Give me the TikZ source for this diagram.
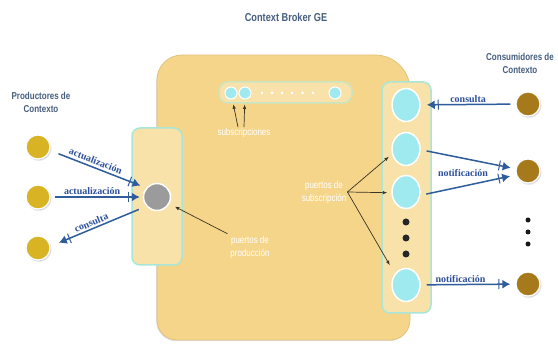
\documentclass[tikz,border=0pt]{standalone}
\usepackage{fontspec}
\setmainfont{Liberation Serif}
\newfontfamily\nsans[FakeStretch=0.8]{Liberation Sans}
\usetikzlibrary{arrows.meta,shapes.geometric,calc,shadows}
\definecolor{broker}{HTML}{F5D58A}
\definecolor{brokeredge}{HTML}{E3C37A}
\definecolor{portfill}{HTML}{F8E2A9}
\definecolor{portedge}{HTML}{A9E6D8}
\definecolor{baredge}{HTML}{C9E6C2}
\definecolor{cyanport}{HTML}{9EEAEE}
\definecolor{prodcol}{HTML}{D8B424}
\definecolor{conscol}{HTML}{A67A1A}
\definecolor{graycol}{HTML}{9B9B9B}
\definecolor{arrowblue}{HTML}{2F5C9A}
\definecolor{lblblue}{HTML}{2C4F9A}
\definecolor{titlecol}{HTML}{465E7E}
\definecolor{darkline}{HTML}{3B3424}
\begin{document}
\begin{tikzpicture}[x=1pt,y=-1pt,
  prod/.style={circle,fill=prodcol,draw=white,line width=1.2pt,minimum size=24pt,inner sep=0pt,
    circular drop shadow={shadow xshift=.6pt,shadow yshift=-.8pt,opacity=.3}},
  cons/.style={prod,fill=conscol},
  grayport/.style={circle,fill=graycol,draw=white,line width=1.5pt,minimum size=27pt,inner sep=0pt},
  subport/.style={ellipse,fill=cyanport,draw=white,line width=1.5pt,minimum width=28pt,minimum height=33pt,inner sep=0pt},
  barport/.style={circle,fill=cyanport,draw=white,line width=1pt,minimum size=12pt,inner sep=0pt},
  wdot/.style={circle,fill=white,minimum size=3pt,inner sep=0pt},
  bdot/.style={circle,fill=black!85,minimum size=7pt,inner sep=0pt},
  cdot/.style={circle,fill=black!90,minimum size=5pt,inner sep=0pt},
  portbox/.style={rectangle,rounded corners=8pt,fill=portfill,draw=portedge,line width=1.5pt,inner sep=0pt},
  barbox/.style={rectangle,rounded corners=9pt,fill=portfill,draw=baredge,line width=1.5pt,inner sep=0pt},
  bluearrow/.style={draw=arrowblue,line width=1.5pt,
    -{Bar[width=10pt,line width=1pt,sep=3pt]Latex[length=8pt,width=9pt]}},
  blk/.style={draw=darkline,line width=0.7pt,-{Latex[length=4.5pt,width=3.5pt]}},
  lbl/.style={font=\bfseries\fontsize{10}{11}\selectfont,text=lblblue,inner sep=1pt},
  wlbl/.style={font=\nsans\fontsize{10}{13}\selectfont,text=white,align=center,inner sep=1pt},
  hdr/.style={font=\nsans\bfseries\fontsize{10}{13}\selectfont,text=titlecol,align=center,inner sep=0pt}
]
\useasboundingbox (0,0) rectangle (558,344);
\fill[white] (0,0) rectangle (558,344);
% broker box
\path[fill=broker,draw=brokeredge,line width=0.8pt,
  drop shadow={shadow xshift=-.8pt,shadow yshift=-1.2pt,opacity=.25}]
  (157,80) arc[start angle=180,end angle=270,radius=25]
  -- (375,55) arc[start angle=270,end angle=360,radius=35]
  -- (410,320) arc[start angle=0,end angle=90,radius=20]
  -- (177,340) arc[start angle=90,end angle=180,radius=20] -- cycle;
% title and headers
\node[hdr,font=\nsans\bfseries\fontsize{11.5}{13}\selectfont] (title) at (286,17) {Context Broker GE};
\node[hdr] (prodhdr) at (41,102) {Productores de\\Contexto};
\node[hdr] (conshdr) at (520,63.5) {Consumidores de\\Contexto};
% boxes
\node[portbox,minimum width=50pt,minimum height=137pt] (pbox) at (157,196.5) {};
\node[portbox,minimum width=49pt,minimum height=231pt] (sbox) at (406.5,197.5) {};
\node[barbox,minimum width=133pt,minimum height=21pt] (bar) at (285.5,92.5) {};
% subscription bar contents
\node[barport] (sc1) at (231,93) {};
\node[barport] (sc2) at (245,93) {};
\node[barport] (sc3) at (335,93) {};
\foreach \i/\x in {1/262,2/272,3/282,4/292,5/302.5,6/313}
  \node[wdot] (wd\i) at (\x,93) {};
% ports
\node[grayport] (g) at (157,197) {};
\node[subport] (s1) at (406,105) {};
\node[subport] (s2) at (406,149) {};
\node[subport] (s3) at (406,192) {};
\node[subport] (s5) at (406,285) {};
\node[bdot] (sd1) at (406,222) {};
\node[bdot] (sd2) at (406,238) {};
\node[bdot] (sd3) at (406,254) {};
% producers and consumers
\node[prod] (p1) at (38,147) {};
\node[prod] (p2) at (38,197) {};
\node[prod] (p3) at (38,248) {};
\node[cons] (c1) at (528,104) {};
\node[cons] (c2) at (528,171) {};
\node[cons] (c3) at (528,284) {};
\node[cdot] (cd1) at (528,220) {};
\node[cdot] (cd2) at (528,232) {};
\node[cdot] (cd3) at (528,244) {};
% white labels
\node[wlbl] (subs) at (244,133) {subscripciones};
\node[wlbl] (psub) at (324,192) {puertos de\\subscripción};
\node[wlbl] (pprod) at (250,247) {puertos de\\producción};
% black pointer arrows
\draw[blk,shorten >=5pt] ($(subs.north)+(-6,0)$) -- (sc1);
\draw[blk,shorten >=5pt] (subs.north) -- (sc2);
\draw[blk,shorten >=4pt] (psub.east) -- (s2.200);
\draw[blk,shorten >=4pt] (psub.east) -- (s3.183);
\draw[blk,shorten >=10pt] (psub.east) -- (s5.135);
\draw[blk,shorten <=2pt,shorten >=6pt] (pprod.north west) -- (g.-29);
% blue arrows left
\draw[bluearrow,shorten <=9pt,shorten >=6pt] (p1.-16) -- (g.140)
  node[pos=0.45,sloped,above,lbl,inner sep=2.5pt] (la1) {actualización};
\draw[bluearrow,shorten <=4pt,shorten >=3pt] (p2) -- (g)
  node[pos=0.45,above,lbl,inner sep=1.5pt] (la2) {actualización};
\draw[bluearrow,shorten <=8pt,shorten >=9pt] (g.-139) -- (p3.8)
  node[pos=0.55,sloped,above,lbl,inner sep=1.8pt] (la3) {consulta};
% blue arrows right
\draw[bluearrow,shorten <=5pt,shorten >=6pt] (c1) -- (s1)
  node[pos=0.5,above,lbl,inner sep=1.5pt] (lr1) {consulta};
\draw[bluearrow,shorten <=6pt,shorten >=5pt] (s2.-3) -- (c2.170);
\draw[bluearrow,shorten <=6pt,shorten >=6pt] (s3.-13) -- (c2.198);
\node[lbl] (lr2) at (463,173) {notificación};
\draw[bluearrow,shorten <=6pt,shorten >=5pt] (s5) -- (c3)
  node[pos=0.42,above,lbl,inner sep=1.5pt] (lr3) {notificación};
\end{tikzpicture}
\end{document}
